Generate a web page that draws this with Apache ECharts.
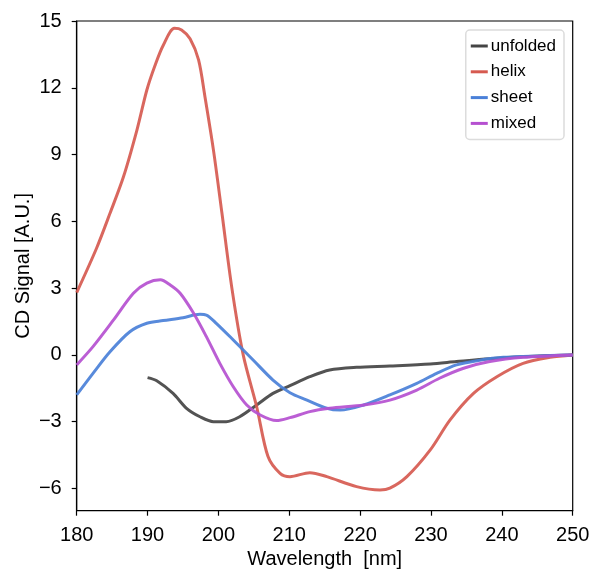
<!DOCTYPE html>
<html>
<head>
<meta charset="utf-8">
<script src="https://cdn.jsdelivr.net/npm/echarts@6/dist/echarts.min.js"></script>
<style>html,body{margin:0;padding:0;background:#fff}#c{width:594px;height:569px}</style>
</head>
<body>
<div id="c"></div>
<script>
const seriesNames = ['unfolded', 'helix', 'sheet', 'mixed'];
const yTicks = [-6, -3, 0, 3, 6, 9, 12, 15];
const xTicks = [180, 190, 200, 210, 220, 230, 240, 250];

const unfoldedX = [190, 191.3, 193.6, 195.5, 197.4, 199.3, 201.1, 203, 205.4, 207.7, 210.1, 212.9, 215.7, 219.5, 224.2, 229.9, 233.6, 238.3, 243, 250];
const unfoldedY = [-1.02, -1.16, -1.73, -2.4, -2.78, -3.0, -3.0, -2.78, -2.25, -1.73, -1.38, -0.98, -0.68, -0.56, -0.5, -0.41, -0.3, -0.17, -0.08, 0];

const helixX = [180, 182.8, 184.7, 186.6, 188.5, 189.9, 191.05, 192.2, 193.8, 194.8, 196, 197.2, 198.1, 199.3, 200.5, 201.9, 203.5, 205.4, 207.0, 208.7, 210.1, 212.9, 215.3, 219.5, 222.8, 224.2, 226.6, 229.9, 232.7, 236.0, 239.3, 243.0, 246.8, 250];
const helixY = [2.8, 4.79, 6.36, 8.0, 10.1, 11.9, 13.0, 13.9, 14.67, 14.6, 14.2, 13.25, 11.6, 9.2, 6.36, 3.0, 0, -2.33, -4.57, -5.32, -5.47, -5.29, -5.47, -5.92, -6.07, -5.99, -5.47, -4.27, -2.92, -1.73, -0.98, -0.38, -0.11, 0];

const sheetX = [180, 182.3, 184.7, 187.5, 189.9, 192.2, 195, 197.4, 198.3, 199.7, 202.1, 204.9, 207.7, 210.1, 212.5, 215.3, 217.2, 220.5, 224.2, 228, 230.8, 233.6, 236.5, 240.2, 250];
const sheetY = [-1.8, -0.83, 0.14, 1.04, 1.42, 1.54, 1.67, 1.82, 1.79, 1.42, 0.67, -0.23, -1.13, -1.7, -2.03, -2.4, -2.48, -2.25, -1.8, -1.28, -0.83, -0.45, -0.26, -0.11, 0];

const mixedX = [180, 182.3, 185.2, 188, 189.9, 191.8, 193.2, 194.6, 196.5, 198.3, 200.2, 202.1, 204, 205.9, 208.2, 210.1, 212.9, 215.7, 220.5, 224.2, 228, 231.2, 234.6, 238.3, 243, 250];
const mixedY = [-0.45, 0.37, 1.57, 2.77, 3.22, 3.37, 3.14, 2.77, 1.87, 0.82, -0.38, -1.43, -2.25, -2.7, -2.95, -2.82, -2.55, -2.4, -2.25, -2.03, -1.58, -1.05, -0.6, -0.3, -0.11, 0];

const colors = ['#444444', '#d65a50', '#4a80d8', '#b550d0'];
const xsAll = [unfoldedX, helixX, sheetX, mixedX];
const ysAll = [unfoldedY, helixY, sheetY, mixedY];

const font = 'Liberation Sans, Arial, sans-serif';
const chart = echarts.init(document.getElementById('c'), null, {renderer: 'canvas'});
chart.setOption({
  animation: false,
  backgroundColor: '#fff',
  grid: {left: 76.7, right: 21.3, top: 21, bottom: 58.3, show: true, borderColor: '#000', borderWidth: 1.2,
    containLabel: false, outerBoundsMode: 'none'},
  legend: {
    orient: 'vertical', right: 30, top: 30,
    data: seriesNames,
    icon: 'rect', itemWidth: 17, itemHeight: 3, itemGap: 8.8,
    padding: [7.5, 8, 7.5, 5],
    borderColor: '#dcdcdc', borderWidth: 1.5, borderRadius: 4,
    textStyle: {fontFamily: font, fontSize: 17, color: '#000', padding: [0, 0, 0, -2]}
  },
  xAxis: {
    type: 'value', min: 180, max: 250,
    name: 'Wavelength  [nm]', nameLocation: 'middle', nameGap: 39, nameMoveOverlap: false,
    nameTextStyle: {fontFamily: font, fontSize: 20, color: '#000'},
    axisLine: {show: true, onZero: false, lineStyle: {color: '#000', width: 1.2}},
    axisTick: {show: true, inside: false, length: 5, lineStyle: {color: '#000', width: 1.2}, customValues: xTicks},
    axisLabel: {fontFamily: font, fontSize: 20, color: '#000', margin: 15, customValues: xTicks},
    splitLine: {show: false}
  },
  yAxis: {
    type: 'value', min: -7, max: 15,
    name: 'CD Signal [A.U.]', nameLocation: 'middle', nameGap: 43, nameMoveOverlap: false,
    nameTextStyle: {fontFamily: font, fontSize: 20, color: '#000'},
    axisLine: {show: true, onZero: false, lineStyle: {color: '#000', width: 1.2}},
    axisTick: {show: true, inside: false, length: 5, lineStyle: {color: '#000', width: 1.2}, customValues: yTicks},
    axisLabel: {fontFamily: font, fontSize: 20, color: '#000', margin: 15, customValues: yTicks,
      formatter: v => String(v).replace('-', '\u2212')},
    splitLine: {show: false}
  },
  series: seriesNames.map((n, i) => ({
    name: n, type: 'line', smooth: 0.3, showSymbol: false, symbol: 'none',
    data: xsAll[i].map((x, k) => [x, ysAll[i][k]]),
    lineStyle: {color: colors[i], width: 3, opacity: 0.92},
    itemStyle: {color: colors[i]},
    z: 2 + i
  }))
});
</script>
</body>
</html>
